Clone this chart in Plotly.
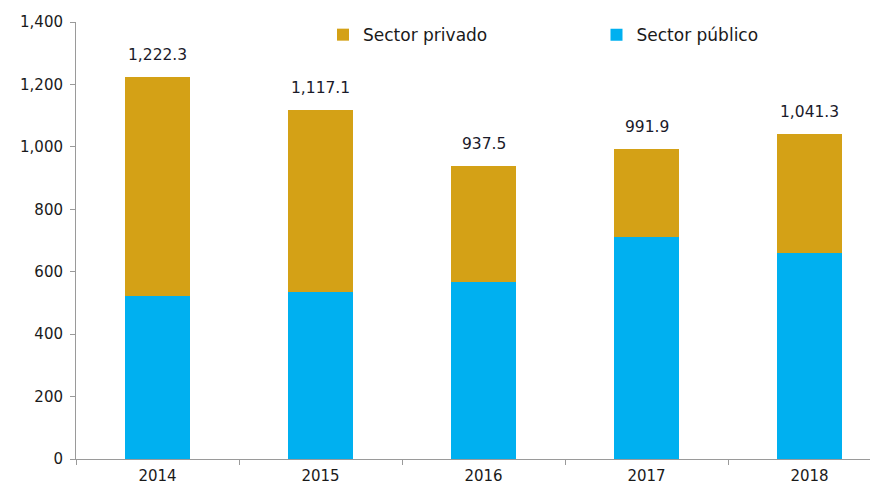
import plotly.graph_objects as go

years = ["2014", "2015", "2016", "2017", "2018"]
publico = [521, 534, 566, 712, 660]
totales = [1222.3, 1117.1, 937.5, 991.9, 1041.3]
privado = [round(t - p, 1) for t, p in zip(totales, publico)]
total_labels = [f"{v:,.1f}" for v in totales]
y_ticks = [0, 200, 400, 600, 800, 1000, 1200, 1400]
y_ticklabels = [f"{v:,}" for v in y_ticks]

tick_font = dict(family="DejaVu Sans", size=15, color="#1a1a1a")
lab_font = dict(family="DejaVu Sans", size=15.5, color="#1a1a2a")
leg_font = dict(family="DejaVu Sans", size=17, color="#1a1a1a")

fig = go.Figure()
fig.add_trace(go.Bar(x=years, y=publico, name="Sector público", legend="legend2",
                     marker=dict(color="#00B0F0", line=dict(width=0)), width=0.4))
fig.add_trace(go.Bar(x=years, y=privado, name="Sector privado", legend="legend",
                     marker=dict(color="#D4A116", line=dict(width=0)), width=0.4))

for i, (tot, lab) in enumerate(zip(totales, total_labels)):
    fig.add_annotation(x=i, y=tot, xref="x", yref="y", text=lab, showarrow=False,
                       yanchor="bottom", yshift=11, font=lab_font)

leg_common = dict(orientation="h", yanchor="middle", y=0.97, xanchor="left",
                  font=leg_font, bgcolor="rgba(0,0,0,0)", itemwidth=30)

fig.update_layout(
    width=870, height=478,
    barmode="stack",
    plot_bgcolor="white", paper_bgcolor="white",
    margin=dict(l=68, r=0, t=14, b=27, autoexpand=False),
    font=tick_font,
    showlegend=True,
    legend=dict(x=0.308, **leg_common),
    legend2=dict(x=0.649, **leg_common),
    xaxis=dict(type="category", range=[-0.5, 4.42], showline=True, linecolor="#9a9a9a",
               linewidth=1, ticks="outside", tickson="boundaries", ticklen=5,
               tickcolor="#9a9a9a", ticklabelstandoff=3, automargin=False,
               showgrid=False, tickfont=tick_font, fixedrange=True),
    yaxis=dict(range=[0, 1400], tickvals=y_ticks, ticktext=y_ticklabels,
               showline=True, linecolor="#9a9a9a", linewidth=1, automargin=False,
               ticks="outside", ticklen=5, tickcolor="#9a9a9a", ticklabelstandoff=4,
               showgrid=False, zeroline=False, tickfont=tick_font, fixedrange=True),
)

fig.write_html("out.html")
